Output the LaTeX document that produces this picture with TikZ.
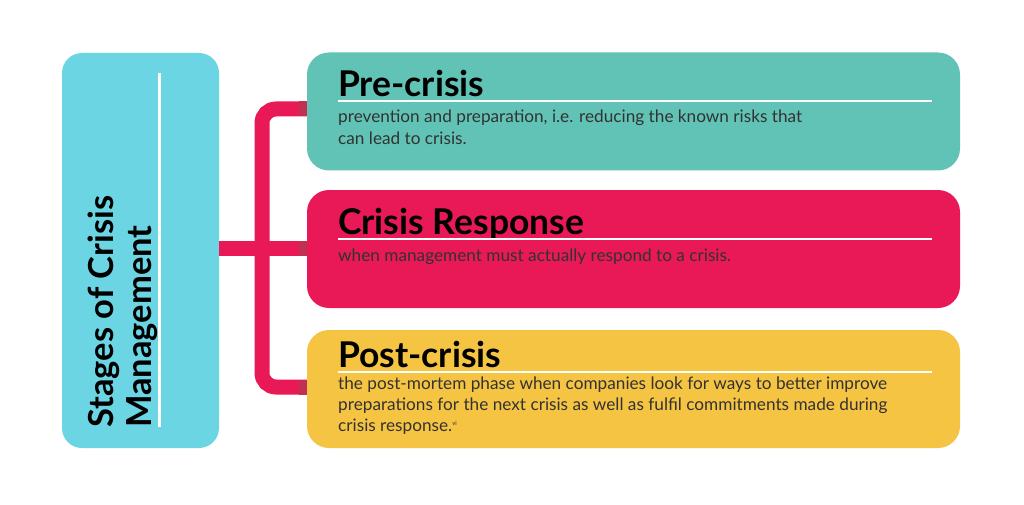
\documentclass[tikz,border=0pt]{standalone}
\usepackage{fontspec}
\setmainfont{Lato}
\definecolor{cyanbox}{RGB}{108,213,228}
\definecolor{tealbox}{RGB}{97,195,181}
\definecolor{redbox}{RGB}{232,25,86}
\definecolor{yellowbox}{RGB}{246,196,67}
\definecolor{darkjoin}{RGB}{192,48,80}
\definecolor{bodytext}{RGB}{50,50,50}
\begin{document}
\begin{tikzpicture}[x=1pt,y=-1pt,
  stagebox/.style={rounded corners=22pt, minimum width=653pt, minimum height=118pt, inner sep=0pt},
  conn/.style={draw=redbox, line width=15pt},
  title/.style={anchor=base west, inner sep=0pt, font=\fontsize{35.5}{36}\selectfont\bfseries, text=black},
  body/.style={anchor=base west, inner sep=0pt, font=\fontsize{17.2}{21.3}\selectfont, text=bodytext},
  rule/.style={draw=white, line width=2.2pt}]
\useasboundingbox (0,0) rectangle (1024,505);
\fill[white] (0,0) rectangle (1024,505);
% left box
\node[fill=cyanbox, rounded corners=20pt, minimum width=157pt, minimum height=395pt, inner sep=0pt] (stages) at (140.5,250.5) {};
\draw[white, line width=3pt] (159,73) -- (159,427);
\node[rotate=90, anchor=base west, inner sep=0pt, font=\fontsize{34.5}{38.5}\selectfont\bfseries] (stagetext) at (113,428)
  {\parbox[t]{360pt}{\raggedright Stages of Crisis\\Management}};
% stage boxes
\node[stagebox, fill=tealbox] (pre) at (633.5,111.5) {};
\node[stagebox, fill=redbox] (resp) at (633.5,249) {};
\node[stagebox, fill=yellowbox] (post) at (633.5,389) {};
% connectors
\coordinate (a1) at (262,109);
\coordinate (a2) at (262,248);
\coordinate (a3) at (262,387);
\draw[conn] (stages.east |- a2) -- (resp.west |- a2);
\draw[conn, rounded corners=14pt] (pre.west |- a1) -- (a1) -- (a3) -- (post.west |- a3);
\fill[darkjoin] ([xshift=-8pt]pre.west |- a1) ++(0,-7.5) rectangle ++(8,15);
\fill[darkjoin] ([xshift=-8pt]resp.west |- a2) ++(0,-7.5) rectangle ++(8,15);
\fill[darkjoin] ([xshift=-8pt]post.west |- a3) ++(0,-7.5) rectangle ++(8,15);
% pre-crisis
\node[title] (pretitle) at (338,97) {Pre-crisis};
\draw[rule] (338,101) -- (932,101);
\node[body] (prebody) at (338,123) {\parbox[t]{600pt}{\raggedright prevention and preparation, i.e. reducing the known risks that\\can lead to crisis.}};
% crisis response
\node[title] (resptitle) at (338,234) {Crisis Response};
\draw[rule] (338,239) -- (932,239);
\node[body] (respbody) at (338,261) {when management must actually respond to a crisis.};
% post-crisis
\node[title] (posttitle) at (338,367) {Post-crisis};
\draw[rule] (338,372) -- (932,372);
\node[body] (postbody) at (338,389) {\parbox[t]{600pt}{\raggedright the post-mortem phase when companies look for ways to better improve\\preparations for the next crisis as well as fulfil commitments made during\\crisis response.\textsuperscript{\fontsize{6}{6}\selectfont vi}}};
\end{tikzpicture}
\end{document}
